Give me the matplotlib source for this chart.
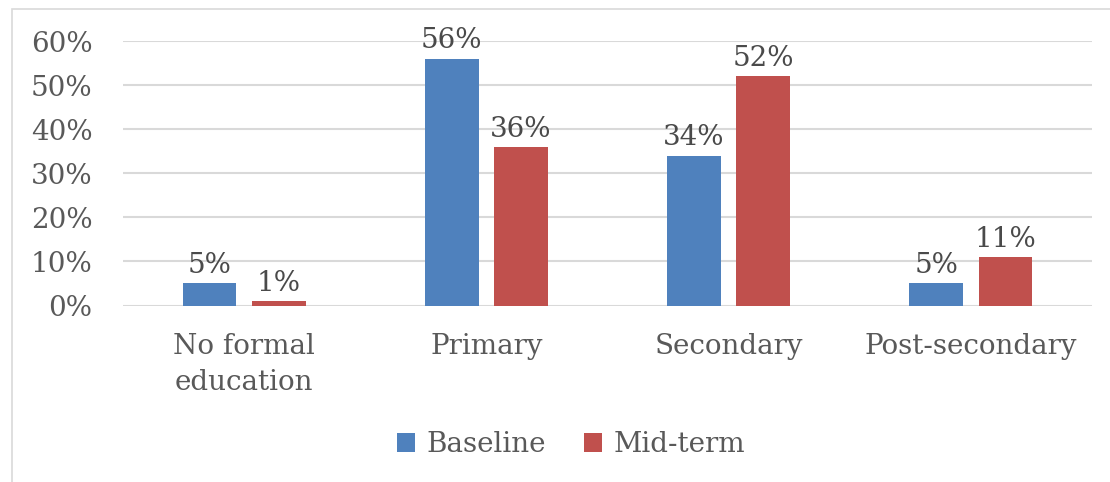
import matplotlib
matplotlib.use("Agg")
import matplotlib.pyplot as plt
from matplotlib.patches import Rectangle
import numpy as np

categories = ["No formal\neducation", "Primary", "Secondary", "Post-secondary"]
series_names = ["Baseline", "Mid-term"]
baseline = [5, 56, 34, 5]
midterm = [1, 36, 52, 11]
yticks = [0, 10, 20, 30, 40, 50, 60]

colors = ["#4f81bd", "#c0504d"]
text_color = "#595959"
plt.rcParams['font.family'] = ['DejaVu Serif']

fig = plt.figure(figsize=(11.1, 4.82), dpi=100)
ax = fig.add_axes([123/1110, 1 - 305.5/482, (1092-123)/1110, (305.5-41)/482])

x = np.arange(len(categories))
w = 0.221
off = 0.143
b1 = ax.bar(x - off, baseline, w, color=colors[0], label=series_names[0], zorder=3)
b2 = ax.bar(x + off, midterm, w, color=colors[1], label=series_names[1], zorder=3)
for bars, vals in ((b1, baseline), (b2, midterm)):
    for r, v in zip(bars, vals):
        ax.annotate(f"{v}%", (r.get_x() + r.get_width()/2, v), xytext=(0, 3),
                    textcoords="offset points", ha="center", va="bottom",
                    fontsize=20, color="#4a4a4a")

ax.set_xlim(-0.5, len(categories) - 0.5)
ax.set_ylim(0, 60)
ax.set_yticks(yticks)
ax.set_yticklabels([f"{t}%" for t in yticks])
ax.set_xticks(x)
ax.set_xticklabels(categories, linespacing=1.4)
ax.tick_params(axis="y", length=0, pad=22, labelsize=20, labelcolor=text_color)
ax.tick_params(axis="x", length=0, pad=20, labelsize=20, labelcolor=text_color)
ax.grid(axis="y", color="#d9d9d9", linewidth=1.5, zorder=0)
for s in ax.spines.values():
    s.set_visible(False)

fig.legend(handles=[b1, b2], labels=series_names, loc="center",
           bbox_to_anchor=(571/1110, 1 - 445/482), ncol=2, frameon=False,
           fontsize=20, handlelength=0.65, handleheight=0.65, handletextpad=0.4,
           columnspacing=1.4, labelcolor=text_color)

fig.add_artist(Rectangle((12/1110, -0.1), 1.2, 1 - 9/482 + 0.1, transform=fig.transFigure,
                         fill=False, edgecolor="#d9d9d9", linewidth=1.2))

fig.savefig("out.png", dpi=100)
